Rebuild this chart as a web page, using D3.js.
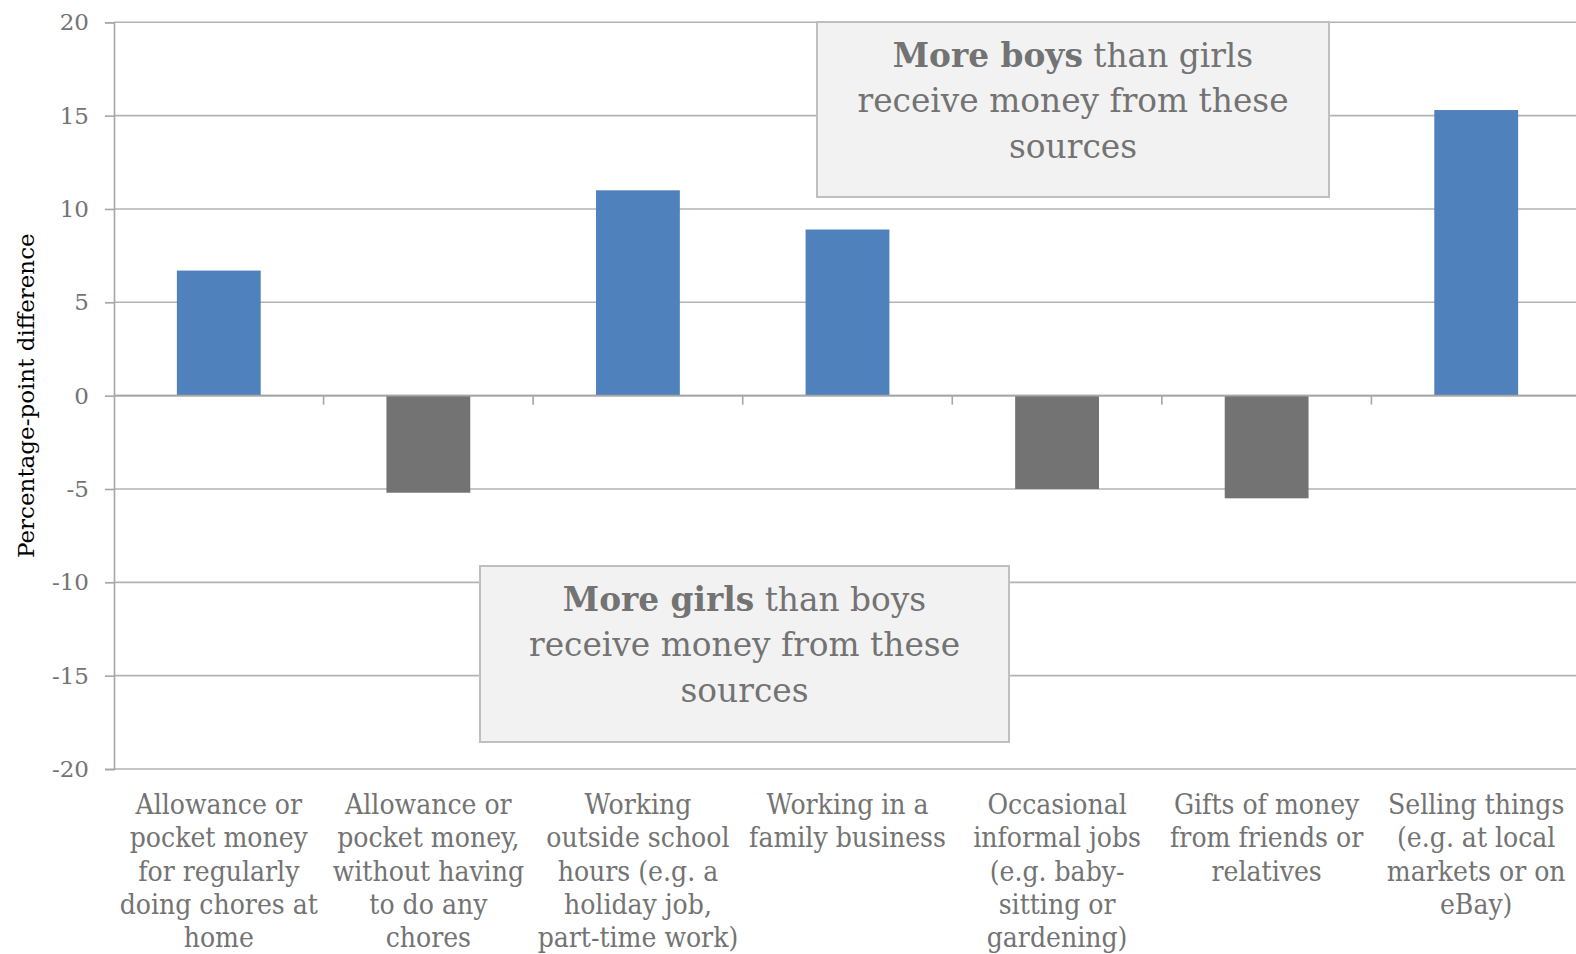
<!DOCTYPE html>
<html>
<head>
<meta charset="utf-8">
<script src="https://cdn.jsdelivr.net/npm/d3@7"></script>
<style>
  html, body { margin: 0; padding: 0; background: #fff; }
  svg { display: block; }
</style>
</head>
<body>
<svg id="chart" width="1576" height="954"></svg>
<script>
// Percentage-point difference (boys minus girls) by source of money
const categories = [
  ["Allowance or", "pocket money", "for regularly", "doing chores at", "home"],
  ["Allowance or", "pocket money,", "without having", "to do any", "chores"],
  ["Working", "outside school", "hours (e.g. a", "holiday job,", "part-time work)"],
  ["Working in a", "family business"],
  ["Occasional", "informal jobs", "(e.g. baby-", "sitting or", "gardening)"],
  ["Gifts of money", "from friends or", "relatives"],
  ["Selling things", "(e.g. at local", "markets or on", "eBay)"]
];
const values = [6.7, -5.2, 11.0, 8.9, -5.0, -5.5, 15.3];
const yTicks = [20, 15, 10, 5, 0, -5, -10, -15, -20];
const yTitle = "Percentage-point difference";
const boysNote = ["More boys", " than girls", "receive money from these", "sources"];
const girlsNote = ["More girls", " than boys", "receive money from these", "sources"];

(function () {
  const svg = d3.select("#chart");
  const plotLeft = 114, plotRight = 1581, plotTop = 22.3, plotBottom = 769;
  const serif = "'DejaVu Serif', 'Liberation Serif', serif";
  const condensed = "'DejaVu Serif Condensed', 'Liberation Serif', serif";
  const grey = "#737373";
  const axisGrey = "#a6a6a6";

  const x = d3.scaleBand().domain(d3.range(categories.length))
    .range([plotLeft, plotRight]).paddingInner(0.6).paddingOuter(0.3);
  const y = d3.scaleLinear().domain([-20, 20]).range([plotBottom, plotTop]);

  // horizontal gridlines
  svg.append("g").selectAll("line").data(yTicks).join("line")
    .attr("x1", plotLeft).attr("x2", plotRight)
    .attr("y1", d => y(d)).attr("y2", d => y(d))
    .attr("stroke", "#b3b3b3").attr("stroke-width", 1.6);

  // y axis (plain hyphen for negatives)
  const yAxis = svg.append("g").attr("transform", `translate(${plotLeft},0)`)
    .call(d3.axisLeft(y).tickValues(yTicks).tickSize(9).tickPadding(16).tickFormat(d => String(d)));
  yAxis.select(".domain").attr("stroke", axisGrey).attr("stroke-width", 1.6);
  yAxis.selectAll(".tick line").attr("stroke", axisGrey).attr("stroke-width", 1.6);
  yAxis.selectAll(".tick text").attr("fill", grey).attr("font-family", serif).attr("font-size", 23);

  // bars
  svg.append("g").selectAll("rect").data(values).join("rect")
    .attr("x", (d, i) => x(i))
    .attr("width", x.bandwidth())
    .attr("y", d => y(Math.max(0, d)))
    .attr("height", d => Math.abs(y(d) - y(0)))
    .attr("fill", d => d >= 0 ? "#4f81bd" : "#737373");

  // zero line with category separator ticks
  const step = x.step();
  svg.append("line").attr("x1", plotLeft).attr("x2", plotRight).attr("y1", y(0)).attr("y2", y(0))
    .attr("stroke", axisGrey).attr("stroke-width", 1.6);
  svg.append("g").selectAll("line").data(d3.range(1, categories.length)).join("line")
    .attr("x1", i => plotLeft + i * step).attr("x2", i => plotLeft + i * step)
    .attr("y1", y(0)).attr("y2", y(0) + 9)
    .attr("stroke", axisGrey).attr("stroke-width", 1.6);

  // category labels
  const labels = svg.append("g").selectAll("text").data(categories).join("text")
    .attr("text-anchor", "middle")
    .attr("font-family", condensed).attr("font-size", 28).attr("fill", grey)
    .attr("transform", (d, i) => `translate(${x(i) + x.bandwidth() / 2},814)`);
  labels.selectAll("tspan").data(d => d).join("tspan")
    .attr("x", 0).attr("y", (d, j) => j * 33.3).text(d => d);

  // y axis title
  svg.append("text")
    .attr("transform", `translate(34,${(plotTop + plotBottom) / 2}) rotate(-90)`)
    .attr("text-anchor", "middle")
    .attr("font-family", serif).attr("font-size", 23).attr("fill", "#000")
    .text(yTitle);

  // annotation boxes
  function note(lines, bx, by, bw, bh, cy) {
    const g = svg.append("g");
    g.append("rect").attr("x", bx).attr("y", by).attr("width", bw).attr("height", bh)
      .attr("fill", "#f2f2f2").attr("stroke", "#bfbfbf").attr("stroke-width", 2);
    const t = g.append("text").attr("text-anchor", "middle")
      .attr("font-family", serif).attr("font-size", 32.8).attr("fill", grey);
    const first = t.append("tspan").attr("x", bx + bw / 2).attr("y", cy);
    first.append("tspan").attr("font-weight", "bold").text(lines[0]);
    first.append("tspan").text(lines[1]);
    t.append("tspan").attr("x", bx + bw / 2).attr("y", cy + 45.3).text(lines[2]);
    t.append("tspan").attr("x", bx + bw / 2).attr("y", cy + 90.6).text(lines[3]);
  }
  note(boysNote, 817, 22, 512, 175, 67);
  note(girlsNote, 480, 566, 529, 176, 611);
})();
</script>
</body>
</html>
